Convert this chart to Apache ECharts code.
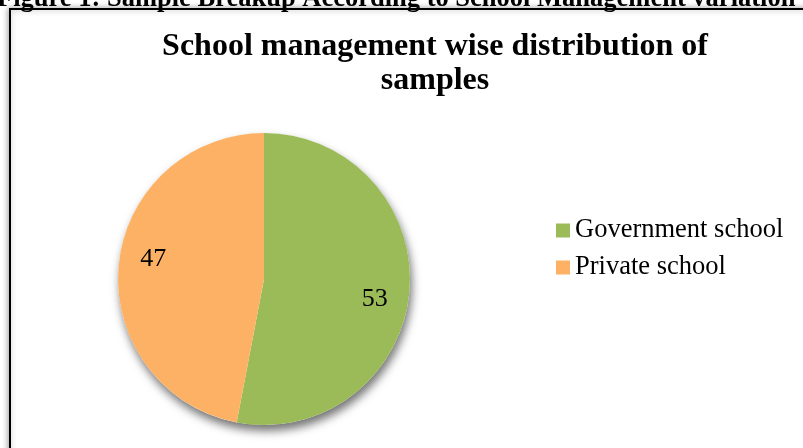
<!DOCTYPE html>
<html>
<head>
<meta charset="utf-8">
<script src="https://cdn.jsdelivr.net/npm/echarts@6/dist/echarts.min.js"></script>
<style>
  html, body { margin: 0; padding: 0; background: #fff; }
  #chart { width: 803px; height: 448px; }
</style>
</head>
<body>
<div id="chart"></div>
<script>
// data
var categories = ['Government school', 'Private school']
var sampleShare = [53, 47]
var sliceColors = ['#9bbb59', '#fdb164']

var serif = '"Liberation Serif", "Times New Roman", serif'
var total = sampleShare.reduce(function (a, b) { return a + b }, 0)
var pieData = categories.map(function (name, i) {
  return {name: name, value: sampleShare[i]}
})

var chart = echarts.init(document.getElementById('chart'))
chart.setOption({
  animation: false,
  color: sliceColors,
  graphic: [
    {
      type: 'rect',
      z: -10,
      shape: {x: 10, y: 9, width: 900, height: 600},
      style: {fill: '#fff', stroke: '#000', lineWidth: 2, shadowBlur: 6, shadowColor: 'rgba(0,0,0,0.35)', shadowOffsetX: -1}
    },
    {
      type: 'text',
      left: -3,
      top: -14,
      style: {
        text: 'Figure 1: Sample Breakup According to School Management variation',
        font: 'bold 26.5px ' + serif,
        fill: '#000'
      }
    }
  ],
  title: {
    text: 'School management wise distribution of\nsamples',
    left: 430,
    textAlign: 'center',
    top: 25,
    textStyle: {fontFamily: serif, fontWeight: 'bold', fontSize: 32, lineHeight: 34, color: '#000'}
  },
  legend: {
    orient: 'vertical',
    left: 551,
    top: 212,
    data: categories,
    icon: 'rect',
    itemWidth: 14,
    itemHeight: 14,
    itemGap: 10,
    textStyle: {fontFamily: serif, fontSize: 26.5, lineHeight: 26, color: '#000'}
  },
  series: [
    {
      // drop shadow under the whole pie
      type: 'pie',
      silent: true,
      center: [264, 279],
      radius: 146,
      label: {show: false},
      labelLine: {show: false},
      data: [{name: 'shadow', value: total}],
      itemStyle: {color: '#fff', shadowBlur: 10, shadowColor: 'rgba(0,0,0,0.55)', shadowOffsetX: 2, shadowOffsetY: 6}
    },
    {
      type: 'pie',
      center: [264, 279],
      radius: 146,
      startAngle: 90,
      clockwise: true,
      label: {show: false},
      labelLine: {show: false},
      data: pieData
    },
    {
      // transparent ring carrying the value labels (Excel puts them a bit past mid-angle)
      type: 'pie',
      silent: true,
      center: [264, 279],
      radius: [73, 146],
      startAngle: 85,
      clockwise: true,
      itemStyle: {color: 'rgba(0,0,0,0)'},
      label: {show: true, position: 'inside', formatter: '{c}', fontFamily: serif, fontSize: 26, color: '#000'},
      labelLine: {show: false},
      data: pieData
    }
  ]
})
</script>
</body>
</html>
